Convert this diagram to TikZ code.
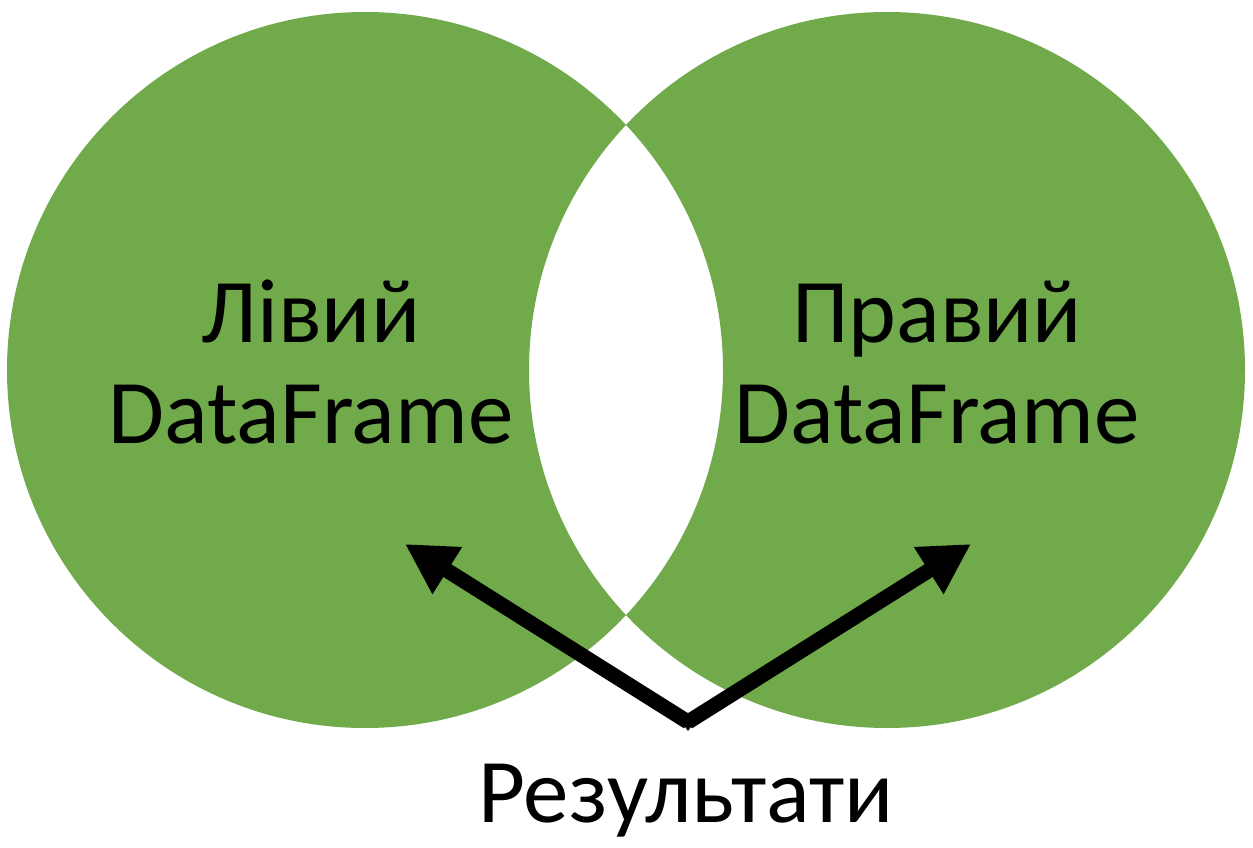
\documentclass[tikz,border=0pt]{standalone}
\usepackage{fontspec}
\setmainfont{Carlito}
\usetikzlibrary{arrows.meta}
\definecolor{vgreen}{HTML}{70AA4A}
\tikzset{
  lbl/.style={font=\fontsize{91}{101}\selectfont, text=black, align=center, inner sep=0pt},
  bigarrow/.style={line width=15pt, draw=black, line join=miter, -{Triangle[length=50pt,width=52pt]}}
}
\begin{document}
\begin{tikzpicture}[x=1pt,y=-1pt]
\useasboundingbox (0,0) rectangle (1253,848);
\fill[white] (0,0) rectangle (1253,848);
\fill[vgreen, even odd rule] (365,370) circle[radius=358] (887,370) circle[radius=358];
\node[lbl, anchor=base] (left) at (311,443) {Лівий\\DataFrame};
\node[lbl, anchor=base] (right) at (937,443) {Правий\\DataFrame};
\node[lbl, anchor=base] (res) at (686,822) {Результати};
\coordinate (base) at (688,722);
\coordinate (tipL) at (405,544);
\coordinate (tipR) at (971,544);
\draw[bigarrow] (base) -- (tipL);
\draw[bigarrow] (base) -- (tipR);
\fill[black] (base) ++(-11,-6) -- ++(11,15) -- ++(11,-15) -- cycle;
\end{tikzpicture}
\end{document}
